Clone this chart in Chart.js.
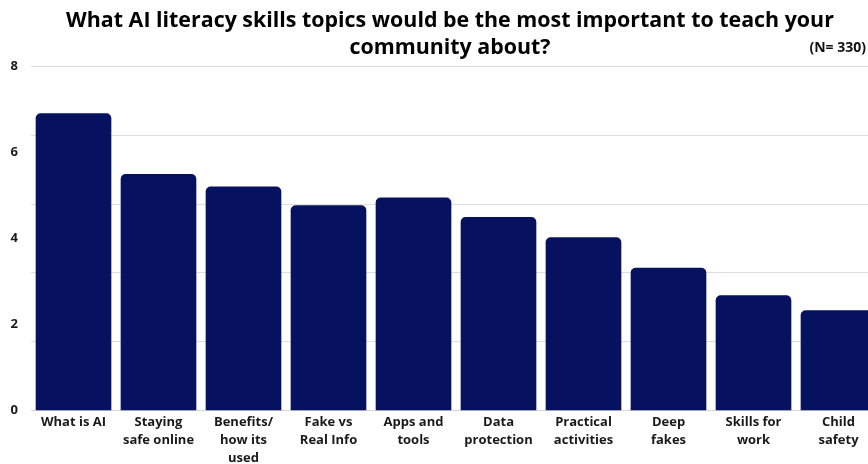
<!DOCTYPE html>
<html>
<head>
<meta charset="utf-8">
<script src="https://cdn.jsdelivr.net/npm/chart.js"></script>
<style>
  html, body { margin: 0; padding: 0; background: #fff; overflow: hidden; }
  #wrap { position: relative; width: 868px; height: 464px; overflow: hidden; }
  #box { position: absolute; left: 0; top: 0; width: 890px; height: 470px; }
  #nlabel { position: absolute; right: 2px; top: 37px; font: bold 14px "Open Sans", sans-serif; color: #111; }
</style>
</head>
<body>
<div id="wrap">
  <div id="box"><canvas id="myChart"></canvas></div>
  <div id="nlabel">(N= 330)</div>
</div>
<script>
// datos del grafico
const temas = [
  'What is AI',
  ['Staying', 'safe online'],
  ['Benefits/', 'how its', 'used'],
  ['Fake vs', 'Real Info'],
  ['Apps and', 'tools'],
  ['Data', 'protection'],
  ['Practical', 'activities'],
  ['Deep', 'fakes'],
  ['Skills for', 'work'],
  ['Child', 'safety']
]
const valores = [6.91, 5.5, 5.21, 4.77, 4.95, 4.5, 4.03, 3.32, 2.68, 2.33]
const ticksY = [0, 2, 4, 6, 8]
const lineasGuia = [0, 1.6, 3.2, 4.8, 6.4, 8]

const azul = '#06125f'

let ctx = document.getElementById('myChart').getContext('2d')
let myChart = new Chart(ctx, {
  type: 'bar',
  data: {
    labels: temas,
    datasets: [{
      label: 'Respuestas',
      data: valores,
      backgroundColor: azul,
      borderRadius: 5,
      barPercentage: 0.89,
      categoryPercentage: 1
    }]
  },
  options: {
    responsive: true,
    maintainAspectRatio: false,
    animation: false,
    layout: { padding: { left: 10, right: 0, top: 0, bottom: 0 } },
    plugins: {
      legend: { display: false },
      tooltip: { enabled: false },
      title: {
        display: true,
        text: ['What AI literacy skills topics would be the most important to teach your', 'community about?'],
        color: '#000',
        font: { family: 'Open Sans', size: 21.4, weight: 'bold', lineHeight: 1.27 },
        padding: { top: 7, bottom: 5 }
      }
    },
    scales: {
      x: {
        grid: { display: false, drawTicks: false },
        border: { color: '#d6d6d6' },
        afterFit: (s) => { s.paddingLeft = 0; s.paddingRight = 0 },
        ticks: {
          color: '#1a1a1a',
          font: { family: 'Open Sans', size: 13, weight: 'bold', lineHeight: 1.42 },
          padding: 2,
          maxRotation: 0,
          autoSkip: false
        }
      },
      y: {
        min: 0,
        max: 8,
        grid: { display: false, drawTicks: false },
        border: { display: false },
        afterBuildTicks: (axis) => { axis.ticks = ticksY.map(v => ({ value: v })) },
        afterFit: (axis) => { axis.width = 21 },
        ticks: {
          color: '#1a1a1a',
          padding: 13,
          font: { family: 'Open Sans', size: 13, weight: 'bold' }
        }
      },
      guia: {
        position: 'right',
        min: 0,
        max: 8,
        afterBuildTicks: (axis) => { axis.ticks = lineasGuia.map(v => ({ value: v })) },
        afterFit: (axis) => { axis.width = 9 },
        ticks: { display: false },
        border: { display: false },
        grid: { color: '#dedede', lineWidth: 1, drawTicks: false }
      }
    }
  }
})
</script>
</body>
</html>
